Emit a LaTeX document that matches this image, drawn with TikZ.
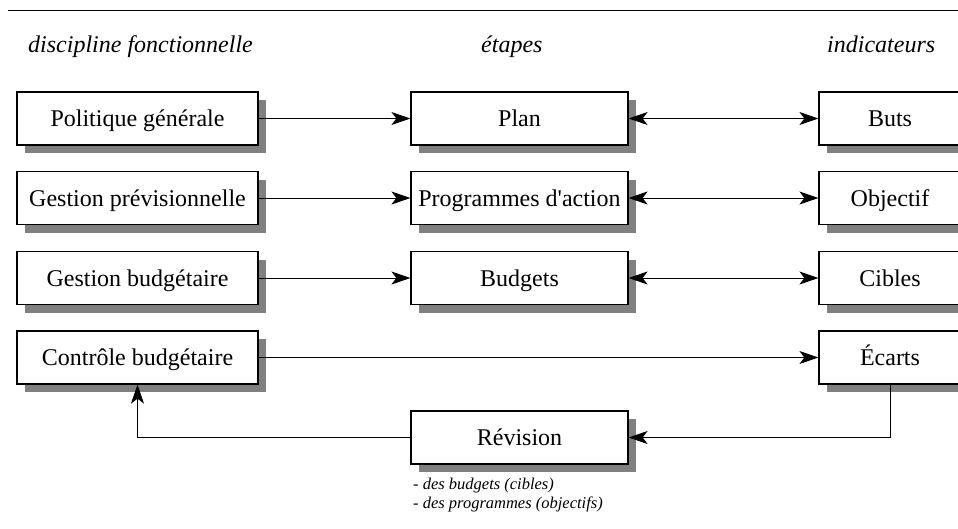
\documentclass[tikz,border=0pt]{standalone}
\usepackage{fontspec}
\setmainfont{Liberation Serif}
\usetikzlibrary{arrows.meta,shadows}
\begin{document}
\begin{tikzpicture}[x=1pt,y=-1pt,
  box/.style={draw, line width=1.2pt, fill=white, minimum height=53pt, inner sep=0pt,
    text height=16pt, text depth=0pt,
    font=\fontsize{24}{28}\selectfont,
    general shadow={fill=black!50, shadow xshift=8pt, shadow yshift=-8pt}},
  lbox/.style={box, minimum width=241pt},
  mbox/.style={box, minimum width=217pt},
  rbox/.style={box, minimum width=142pt},
  hdr/.style={font=\fontsize{24}{28}\selectfont\itshape, inner sep=0pt, anchor=base west},
  conn/.style={line width=0.9pt},
  tip/.style={-{Stealth[length=19pt,width=13pt,inset=5pt]}},
  dtip/.style={{Stealth[length=19pt,width=13pt,inset=5pt]}-{Stealth[length=19pt,width=13pt,inset=5pt]}},
]
\useasboundingbox (0,0) rectangle (958,528);
\coordinate (rl) at (8,10);
\coordinate (rr) at (958,10);
\draw[line width=1pt] (rl) -- (rr);

\node[hdr] (h1) at (28,52) {discipline fonctionnelle};
\node[hdr] (h2) at (481,52) {étapes};
\node[hdr] (h3) at (827,52) {indicateurs};

\node[lbox] (pg) at (137.5,118.5) {Politique générale};
\node[lbox] (gp) at (137.5,198) {Gestion prévisionnelle};
\node[lbox] (gb) at (137.5,278) {Gestion budgétaire};
\node[lbox] (cb) at (137.5,357.5) {Contrôle budgétaire};

\node[mbox] (plan) at (519.5,118.5) {Plan};
\node[mbox] (prog) at (519.5,198) {Programmes d\textquotesingle action};
\node[mbox] (bud) at (519.5,278) {Budgets};
\node[mbox] (rev) at (519.5,437.5) {Révision};

\node[rbox] (buts) at (890,118.5) {Buts};
\node[rbox] (obj) at (890,198) {Objectif};
\node[rbox] (cib) at (890,278) {Cibles};
\node[rbox] (ec) at (890,357.5) {Écarts};

\node[anchor=base west, align=left, inner sep=0pt,
  font=\fontsize{16.5}{19}\selectfont\itshape] (note) at (413,508)
  {- des budgets (cibles)\\- des programmes (objectifs)};

\draw[conn,tip] (pg) -- (plan);
\draw[conn,tip] (gp) -- (prog);
\draw[conn,tip] (gb) -- (bud);
\draw[conn,dtip] (plan) -- (buts);
\draw[conn,dtip] (prog) -- (obj);
\draw[conn,dtip] (bud) -- (cib);
\draw[conn,tip] (cb) -- (ec);
\draw[conn,tip] (ec.south) |- (rev.east);
\draw[conn,tip] (rev.west) -| (cb.south);
\end{tikzpicture}
\end{document}
